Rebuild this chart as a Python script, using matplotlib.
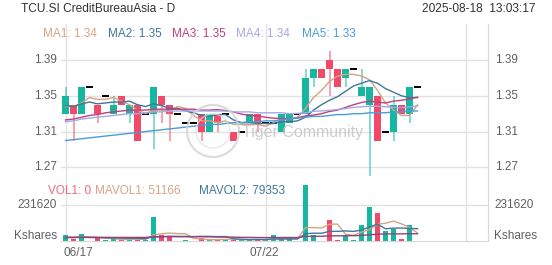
import matplotlib.pyplot as plt
from matplotlib.patches import Rectangle, Ellipse
from matplotlib.transforms import blended_transform_factory

plt.rcParams['font.family'] = ['Liberation Sans', 'DejaVu Sans']

# daily candles 06/17 .. 08/18
opens = [1.33, 1.34, 1.33, 1.36, 1.34, 1.35, 1.33, 1.35, 1.33, 1.34,
         1.33, 1.33, 1.35, 1.34, 1.33, 1.32, 1.32, 1.33, 1.31, 1.33,
         1.33, 1.31, 1.31, 1.32, 1.33, 1.32, 1.32, 1.31, 1.32, 1.33,
         1.33, 1.37, 1.38, 1.39, 1.38, 1.37, 1.38, 1.35, 1.34, 1.35,
         1.31, 1.31, 1.34, 1.33, 1.36]
highs = [1.36, 1.34, 1.36, 1.36, 1.34, 1.35, 1.35, 1.35, 1.34, 1.34,
         1.33, 1.36, 1.35, 1.34, 1.33, 1.32, 1.32, 1.33, 1.33, 1.33,
         1.33, 1.31, 1.31, 1.33, 1.33, 1.32, 1.32, 1.33, 1.33, 1.33,
         1.38, 1.38, 1.38, 1.40, 1.38, 1.38, 1.38, 1.38, 1.36, 1.35,
         1.31, 1.35, 1.34, 1.36, 1.36]
lows = [1.33, 1.30, 1.33, 1.36, 1.32, 1.35, 1.33, 1.34, 1.32, 1.30,
        1.33, 1.29, 1.32, 1.30, 1.33, 1.32, 1.32, 1.30, 1.31, 1.31,
        1.33, 1.30, 1.31, 1.32, 1.31, 1.32, 1.32, 1.31, 1.32, 1.33,
        1.33, 1.36, 1.37, 1.35, 1.36, 1.36, 1.38, 1.35, 1.26, 1.30,
        1.31, 1.30, 1.33, 1.32, 1.36]
closes = [1.35, 1.33, 1.36, 1.36, 1.33, 1.35, 1.34, 1.34, 1.34, 1.30,
          1.33, 1.36, 1.34, 1.33, 1.33, 1.32, 1.32, 1.31, 1.33, 1.32,
          1.33, 1.30, 1.31, 1.33, 1.32, 1.32, 1.32, 1.33, 1.33, 1.33,
          1.37, 1.38, 1.37, 1.38, 1.36, 1.38, 1.38, 1.36, 1.36, 1.30,
          1.31, 1.34, 1.33, 1.36, 1.36]

ma1 = [1.338, 1.338, 1.342, 1.348, 1.346, 1.346, 1.348, 1.344, 1.340, 1.334,
       1.330, 1.334, 1.334, 1.332, 1.338, 1.336, 1.328, 1.322, 1.322, 1.320,
       1.322, 1.318, 1.318, 1.318, 1.318, 1.316, 1.320, 1.324, 1.324, 1.326,
       1.336, 1.348, 1.356, 1.366, 1.372, 1.374, 1.374, 1.372, 1.368, 1.356,
       1.342, 1.334, 1.328, 1.328, 1.340]
ma2 = [1.339, 1.338, 1.341, 1.343, 1.341, 1.342, 1.343, 1.343, 1.344, 1.340,
       1.338, 1.341, 1.339, 1.336, 1.336, 1.333, 1.331, 1.328, 1.327, 1.329,
       1.329, 1.323, 1.320, 1.320, 1.319, 1.319, 1.319, 1.321, 1.321, 1.322,
       1.326, 1.334, 1.340, 1.345, 1.349, 1.355, 1.361, 1.364, 1.367, 1.364,
       1.358, 1.354, 1.350, 1.348, 1.348]
ma3 = [1.323, 1.324, 1.326, 1.328, 1.329, 1.331, 1.332, 1.333, 1.334, 1.334,
       1.334, 1.335, 1.335, 1.335, 1.335, 1.335, 1.335, 1.334, 1.334, 1.3345,
       1.3335, 1.332, 1.3295, 1.328, 1.3275, 1.326, 1.325, 1.3245, 1.324, 1.3255,
       1.3275, 1.3285, 1.330, 1.3325, 1.334, 1.337, 1.340, 1.3425, 1.344, 1.343,
       1.342, 1.344, 1.345, 1.3465, 1.3485]
ma4 = [1.321, 1.322, 1.324, 1.325, 1.326, 1.327, 1.328, 1.329, 1.330, 1.330,
       1.331, 1.332, 1.332, 1.333, 1.333, 1.333, 1.333, 1.333, 1.333, 1.333,
       1.333, 1.332, 1.332, 1.332, 1.331, 1.331, 1.331, 1.331, 1.330, 1.3303,
       1.331, 1.3327, 1.333, 1.3337, 1.3347, 1.3357, 1.337, 1.3377, 1.3383, 1.3383,
       1.3377, 1.337, 1.3367, 1.3377, 1.3387]
ma5 = [1.300, 1.301, 1.302, 1.303, 1.304, 1.305, 1.306, 1.307, 1.308, 1.309,
       1.310, 1.311, 1.312, 1.313, 1.314, 1.315, 1.316, 1.317, 1.318, 1.318,
       1.319, 1.320, 1.320, 1.321, 1.321, 1.322, 1.322, 1.323, 1.324, 1.325,
       1.326, 1.327, 1.327, 1.328, 1.329, 1.329, 1.330, 1.330, 1.331, 1.331,
       1.331, 1.332, 1.332, 1.333, 1.333]

volumes = [38600, 16000, 45000, 3000, 17000, 6500, 11000, 6500, 11000, 21000,
           9500, 152000, 39000, 32000, 3000, 6500, 3000, 22500, 6500, 6500,
           16000, 9500, 6500, 9500, 9500, 6000, 38600, 17000, 13000, 3000,
           360000, 38600, 3000, 135000, 6500, 34000, 6500, 103000, 217000, 182000,
           62000, 78000, 12000, 104000, 0]
mavol1 = [23700, 22900, 27900, 24500, 23900, 17500, 16500, 8800, 10400, 11200,
          11800, 40000, 46500, 50700, 47100, 46500, 16700, 13400, 8300, 9000,
          10900, 12200, 9000, 9600, 10200, 8200, 14000, 16100, 16800, 15500,
          86300, 86300, 83500, 107900, 108600, 43400, 37000, 57000, 73400, 108500,
          114100, 128400, 110200, 87600, 51166]
mavol2 = [21900, 21500, 24000, 22300, 22000, 20600, 19700, 18400, 17500, 17600,
          14700, 28300, 27700, 30600, 29200, 29200, 28400, 30000, 29500, 28100,
          28700, 14500, 11200, 9000, 9600, 9600, 13100, 12600, 13200, 12900,
          47300, 50200, 49800, 62400, 62100, 64900, 61700, 70300, 90700, 108600,
          78800, 82700, 83600, 80500, 79353]
mavol3 = [24000, 24000, 24000, 24000, 23500, 23500, 23000, 23000, 23000, 23000,
          23000, 27000, 27500, 28000, 28000, 28000, 27500, 27500, 27000, 26000,
          25500, 24500, 23500, 23000, 22500, 22000, 22500, 22500, 22500, 22000,
          30000, 30500, 30500, 33000, 33000, 34000, 34000, 36000, 40000, 44000,
          45000, 46000, 46000, 47000, 46500]

price_ticks = [1.39, 1.35, 1.31, 1.27]
vol_tick = 231620
date_pos = [0, 25]
date_labels = ['06/17', '07/22']
grid_pos = [0, 25, 50]

ma_names = ['MA1: 1.34', 'MA2: 1.35', 'MA3: 1.35', 'MA4: 1.34', 'MA5: 1.33']
ma_colors = ['#d6a485', '#3f7799', '#c0407c', '#a6a8e6', '#4a9dd6']
vol_names = ['VOL1: 0', 'MAVOL1: 51166', 'MAVOL2: 79353']
vol_colors = ['#ec6a7e', '#d6a485', '#3f7799']

TEAL = '#16b6a1'
RED = '#f2496b'
GRID = '#e2e2e2'
LABEL = '#606060'

W, H = 552, 265
fig = plt.figure(figsize=(W / 100, H / 100), dpi=100)
ax = fig.add_axes([61 / W, 1 - 180 / H, 427 / W, 156 / H])
axv = fig.add_axes([61 / W, 1 - 241 / H, 427 / W, 61 / H])

xlim = (-0.5625, 52.81)
for a in (ax, axv):
    a.set_xlim(*xlim)
    a.set_xticks([])
    a.set_yticks([])
    for s in ['top', 'left', 'bottom']:
        a.spines[s].set_visible(False)
    a.spines['right'].set_color('#d8d8d8')
    for gx in grid_pos:
        a.axvline(gx, color=GRID, lw=1, zorder=0)

ax.set_ylim(1.2559, 1.4302)
axv.set_ylim(0, 392500)
axv.spines['bottom'].set_visible(True)
axv.spines['bottom'].set_color('#d8d8d8')

for p in price_ticks:
    ax.axhline(p, color=GRID, lw=1, zorder=0)
axv.axhline(vol_tick, color=GRID, lw=1, zorder=0)

# candles
x = list(range(len(closes)))
for i in x:
    o, h, l, c = opens[i], highs[i], lows[i], closes[i]
    col = TEAL if c >= o else RED
    if h > l:
        ax.vlines(i, l, h, color=col, lw=1.2, alpha=0.6, zorder=2)
    if o == c:
        ax.hlines(c, i - 0.38, i + 0.38, color='black', lw=1.4, zorder=3)
    else:
        ax.add_patch(Rectangle((i - 0.4, min(o, c)), 0.8, abs(c - o),
                               fc=col, ec='none', zorder=3))

for vals, col in zip([ma1, ma2, ma3, ma4, ma5], ma_colors):
    ax.plot(x, vals, color=col, lw=1, zorder=4)

# volume
bar_colors = [TEAL if closes[i] >= opens[i] else RED for i in x]
axv.bar(x, volumes, width=0.7, color=bar_colors, zorder=2)
axv.plot(x, mavol1, color='#d6a485', lw=1, zorder=3)
axv.plot(x, mavol2, color='#3f7799', lw=1, zorder=3)
axv.plot(x, mavol3, color='#93407e', lw=1, zorder=3)

# axis labels
tp = blended_transform_factory(ax.transAxes, ax.transData)
for p in price_ticks:
    ax.text(-0.0094, p, f'{p:.2f}', transform=tp, ha='right', va='center',
            fontsize=8.5, color=LABEL)
    ax.text(1.0164, p, f'{p:.2f}', transform=tp, ha='left', va='center',
            fontsize=8.5, color=LABEL)
tv = blended_transform_factory(axv.transAxes, axv.transData)
for xa, ha in [(-0.0094, 'right'), (1.0141, 'left')]:
    axv.text(xa, vol_tick, str(vol_tick), transform=tv, ha=ha, va='center',
             fontsize=8.5, color=LABEL)
    axv.text(xa, 0.082, 'Kshares', transform=axv.transAxes, ha=ha, va='center',
             fontsize=8.5, color=LABEL)

td = blended_transform_factory(axv.transData, axv.transAxes)
axv.text(date_pos[0] - 0.19, -0.197, date_labels[0], transform=td,
         ha='left', va='center', fontsize=8.5, color=LABEL)
axv.text(date_pos[1] - 0.19, -0.197, date_labels[1], transform=td,
         ha='center', va='center', fontsize=8.5, color=LABEL)

# header texts
fig.text(21 / W, 1 - 9 / H, 'TCU.SI CreditBureauAsia - D', ha='left', va='center',
         fontsize=8.6, color='#333333')
fig.text(536 / W, 1 - 9 / H, '2025-08-18  13:03:17', ha='right', va='center',
         fontsize=8.6, color='#333333')
for xp, name, col in zip([43, 108, 172, 236, 302], ma_names, ma_colors):
    fig.text(xp / W, 1 - 34 / H, name, ha='left', va='center', fontsize=8.5, color=col)
for xp, name, col in zip([48, 95, 199], vol_names, vol_colors):
    fig.text(xp / W, 1 - 191 / H, name, ha='left', va='center', fontsize=8.5, color=col)

# watermark
fig.patches.append(Ellipse((213 / W, 1 - 131 / H), 52 / W, 52 / H,
                           transform=fig.transFigure, fill=False,
                           ec='#d4d4d4', lw=1.6, alpha=0.8, zorder=5))
fig.patches.append(Ellipse((213 / W, 1 - 131 / H), 34 / W, 34 / H,
                           transform=fig.transFigure, fill=False,
                           ec='#dedede', lw=1.0, alpha=0.7, zorder=5))
fig.text(242 / W, 1 - 133 / H, 'Tiger Community', ha='left', va='center',
         fontsize=11.5, color='#c4c4c4', alpha=0.85, zorder=6)

fig.savefig('out.png', dpi=100)
